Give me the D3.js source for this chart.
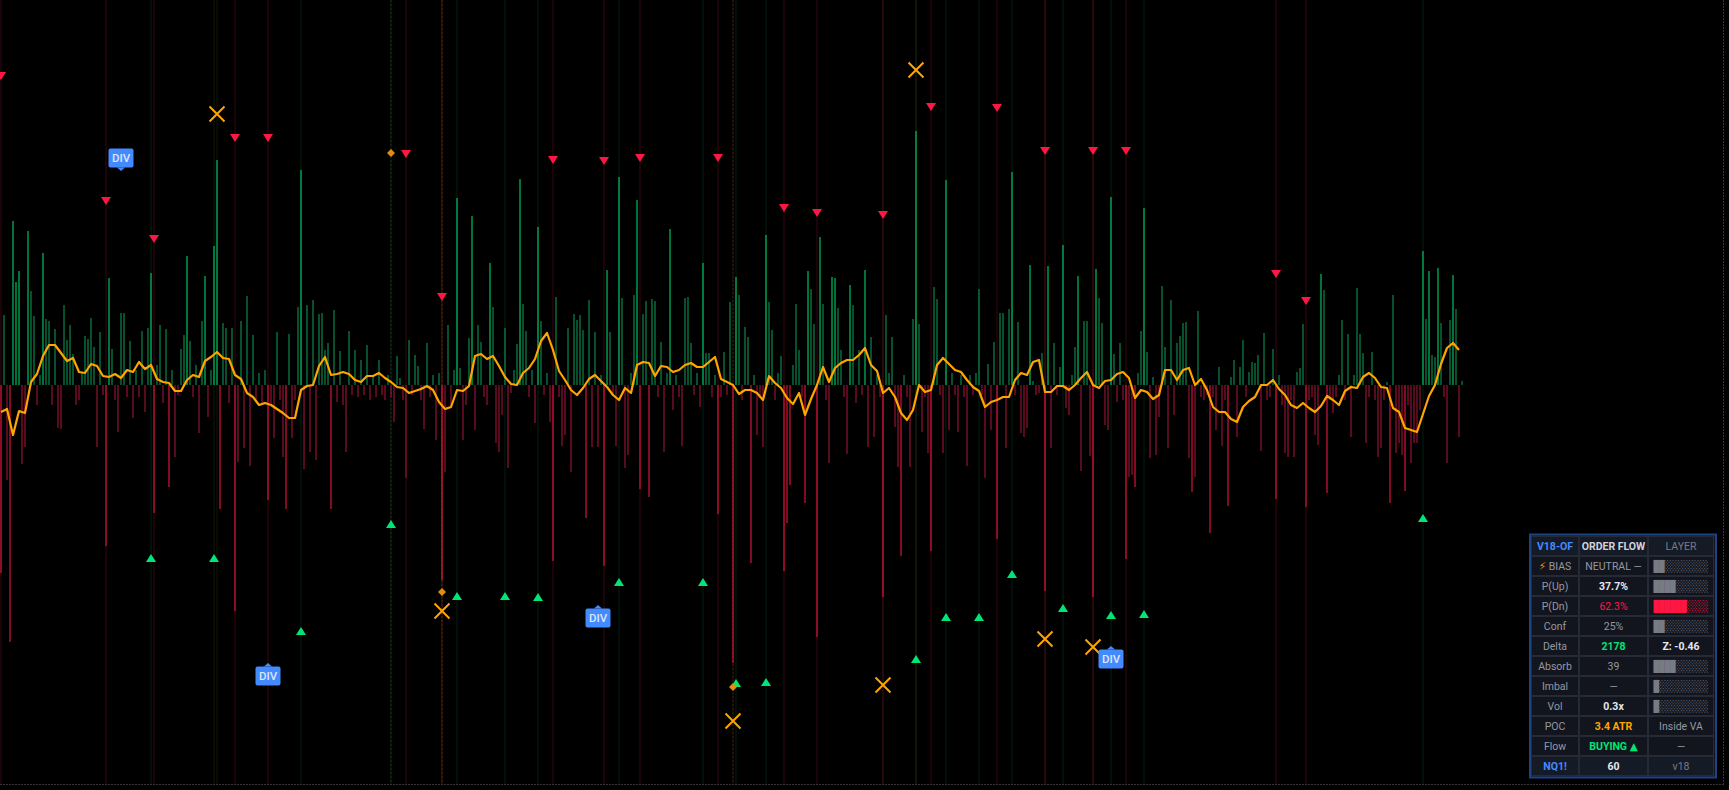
<!DOCTYPE html>
<html><head><meta charset="utf-8">
<script src="https://cdn.jsdelivr.net/npm/d3@7"></script>
<style>html,body{margin:0;padding:0;background:#000;overflow:hidden}</style>
</head><body><svg id="c" width="1729" height="790"></svg>
<script>
// ---------- DATA ----------
// per-bar order-flow delta (z units); + buying (green), - selling (red)
const delta = [
-1.88,0.70,-0.95,-2.57,1.64,1.03,1.14,-0.79,-0.62,1.54,
0.94,0.69,-0.20,0.10,1.32,0.66,0.64,-0.20,0.56,-0.43,
-0.44,0.80,0.45,0.60,0.31,-0.20,-0.15,0.12,0.49,0.46,
0.67,0.38,-0.62,0.53,-0.10,-1.61,1.07,0.36,-0.15,-0.47,
0.72,0.72,-0.12,0.44,-0.33,0.15,-0.12,0.54,-0.27,0.57,
1.12,-1.28,0.20,0.60,-0.18,0.56,-1.02,0.15,-0.72,-0.10,
0.36,0.50,1.29,0.44,-0.12,0.20,-0.48,0.64,1.09,-0.32,
0.15,1.39,2.25,-1.24,0.62,0.57,-0.18,0.57,-2.26,-0.77,
0.64,-0.63,0.89,-0.81,0.50,-0.15,0.12,-0.20,0.15,-1.15,
-0.20,-0.53,0.53,-0.15,-0.72,-1.24,0.51,-0.53,-0.15,0.78,
2.15,-0.84,0.80,-0.67,0.85,-0.75,0.71,0.72,0.35,0.42,
-1.24,0.75,-0.17,0.34,-0.20,-0.67,0.54,-0.10,0.35,-0.12,
0.25,-0.10,0.40,-0.15,0.10,-0.12,0.25,-0.10,-0.15,0.10,
-0.12,-0.37,0.29,0.07,-0.15,-0.93,0.45,-0.10,0.30,0.19,
-0.15,-0.44,0.42,-0.12,0.10,-0.55,0.12,-1.95,-0.87,0.60,
-0.20,0.15,1.87,0.17,-0.55,-0.20,0.47,1.69,-0.45,0.60,
0.43,-0.12,-0.20,1.22,0.78,-0.58,-0.67,
-0.30,0.57,-0.83,-0.08,0.15,0.41,2.06,0.81,0.54,-0.12,
0.15,-0.38,1.58,0.64,-0.10,0.12,-0.37,-1.76,0.88,-0.12,
-0.61,-0.50,0.57,-0.87,0.71,0.65,0.70,0.55,-1.33,0.85,
-0.62,0.53,-0.62,0.10,-1.81,1.15,0.53,-0.10,-0.61,2.08,
0.87,-0.83,-0.70,0.12,0.90,1.85,-1.04,0.71,0.84,-1.12,
0.86,0.84,-0.12,0.43,-0.67,0.12,1.56,-0.25,0.10,-0.12,
-0.61,0.87,0.88,0.42,-0.10,0.12,-0.22,1.22,0.32,0.32,
-0.12,0.10,-1.29,-0.12,0.33,-0.10,0.83,-2.78,1.08,0.90,
-0.15,0.58,0.48,-1.78,0.10,-0.50,-0.12,-0.62,1.50,0.83,
0.55,-0.15,0.12,0.29,-1.86,-1.38,-1.00,0.20,0.81,0.35,
-0.12,-1.18,1.14,0.96,0.61,-2.52,1.48,0.81,-0.15,-0.78,
1.08,1.07,0.77,0.35,-0.12,-0.69,1.00,0.80,-0.18,0.35,
-0.10,1.15,-0.62,0.48,-0.52,0.10,-0.12,-2.12,0.70,0.12,
0.48,-0.42,-0.82,-1.71,0.10,-0.12,-0.82,0.66,2.54,0.61,
-0.47,-0.12,-0.68,-1.66,0.98,0.86,-0.10,-0.68,2.05,-0.45,
0.12,-0.10,-0.47,0.10,-0.12,-0.81,0.10,-0.10,0.12,0.96,
-0.10,-0.93,0.21,-0.45,0.43,-1.54,
0.72,0.72,-0.63,0.76,2.13,-0.10,0.63,-0.48,-0.52,-0.43,
1.20,0.04,-0.10,-0.08,0.32,-2.06,1.19,-0.63,0.42,-0.10,
0.18,1.40,-0.23,-0.30,0.10,0.38,1.09,-0.86,0.64,0.64,
-0.71,-2.12,1.16,0.87,0.62,-0.40,-0.45,1.88,0.31,-0.17,
0.42,-0.15,-1.74,-0.92,-0.90,-1.02,0.12,0.54,1.77,0.33,
-0.73,0.08,-0.70,-0.32,0.99,0.38,-0.63,0.85,-0.30,0.42,
0.49,0.62,0.63,-0.73,-1.07,-0.92,0.74,-0.12,-0.15,-0.10,
-1.48,-0.12,-0.45,0.18,-0.61,-0.15,-1.21,0.08,0.25,-0.52,
0.18,0.45,-0.12,0.13,0.23,0.22,0.30,-0.66,0.52,-0.15,
-0.12,0.36,-1.14,0.10,-0.20,-0.68,-0.72,-0.15,-0.72,0.13,
0.17,0.61,-1.22,-0.15,-0.12,-0.50,-0.60,1.11,0.95,-1.08,
-0.15,-0.28,-0.12,0.10,0.65,-0.15,0.51,-0.52,0.10,0.97,
0.51,0.32,-0.58,-0.12,0.33,-0.15,-0.72,-0.63,-0.15,0.03,
-1.18,0.90,-0.68,-0.58,-0.70,-1.06,-0.20,-0.78,-0.58,-0.58,
-0.25,1.34,0.66,1.14,0.30,0.28,1.17,0.62,-0.12,-0.78,
0.65,1.10,0.76,-0.52,0.04
];

// smoothed flow oscillator, one value every oscStep bars
const oscStep = 2;
const osc = [
-0.27,-0.24,-0.50,-0.26,-0.28,0.03,0.11,0.29,0.40,0.40,
0.32,0.24,0.27,0.13,0.12,0.21,0.19,0.09,0.08,0.11,
0.07,0.15,0.13,0.23,0.16,0.20,0.06,0.03,0.02,-0.06,
-0.06,0.05,0.10,0.08,0.24,0.28,0.33,0.27,0.26,0.10,
0.06,-0.08,-0.12,-0.20,-0.18,-0.20,-0.24,-0.28,-0.33,-0.33,
-0.05,-0.01,0.00,0.19,0.28,0.10,0.11,0.13,0.11,0.05,
0.03,0.09,0.09,0.12,0.07,0.03,-0.02,-0.03,-0.08,-0.06,
-0.04,-0.01,-0.05,-0.17,-0.24,-0.22,-0.05,-0.06,-0.01,0.29,
0.31,0.26,0.29,0.19,0.08,0.01,0.00,0.12,0.17,0.26,
0.44,0.52,0.35,0.14,0.05,-0.05,-0.10,-0.03,0.06,0.10,
0.04,-0.02,-0.10,-0.15,-0.03,-0.08,0.20,0.23,0.22,0.09,
0.19,0.18,0.13,0.15,0.20,0.22,0.18,0.18,0.23,0.28,
0.06,0.03,0.00,-0.09,-0.05,-0.05,-0.08,-0.15,0.09,0.02,
-0.03,-0.13,-0.19,-0.08,-0.30,-0.14,0.00,0.18,0.03,0.17,
0.22,0.25,0.25,0.30,0.37,0.20,0.14,-0.08,-0.03,-0.12,
-0.28,-0.35,-0.25,0.00,-0.07,-0.05,0.20,0.27,0.21,0.15,
0.13,0.05,-0.02,-0.06,-0.22,-0.17,-0.15,-0.12,-0.12,0.05,
0.12,0.10,0.23,0.25,-0.07,-0.07,-0.01,-0.01,-0.05,0.00,
0.07,0.13,0.00,-0.03,0.04,0.05,0.11,0.13,0.07,-0.13,
-0.05,-0.07,-0.14,-0.10,0.15,0.15,0.05,0.15,0.17,0.00,
0.06,-0.05,-0.22,-0.27,-0.27,-0.34,-0.37,-0.22,-0.16,-0.12,
0.00,0.00,0.05,-0.04,-0.10,-0.20,-0.23,-0.18,-0.23,-0.27,
-0.21,-0.11,-0.15,-0.20,-0.06,-0.02,-0.03,0.08,0.12,0.07,
-0.02,-0.03,-0.23,-0.27,-0.43,-0.45,-0.47,-0.29,-0.11,0.00,
0.21,0.37,0.42,0.35
];

// signals: bar index + level (z units)
const sellIdx = [0,35,51,78,89,135,147,184,201,213,239,261,272,294,310,332,348,364,375,425,435];
const sellLvl = [3.09,1.84,1.46,2.47,2.47,2.31,0.88,2.25,2.24,2.27,2.27,1.77,1.72,1.70,2.78,2.77,2.34,2.34,2.34,1.11,0.84];
const buyIdx = [50,71,100,130,152,168,179,206,234,245,255,305,315,326,337,354,370,381,474];
const buyLvl = [-1.73,-1.73,-2.46,-1.39,-2.11,-2.11,-2.12,-1.97,-1.97,-2.98,-2.97,-2.74,-2.32,-2.32,-1.89,-2.23,-2.30,-2.29,-1.33];
const exhIdx = [72,147,244,294,305,348,364];
const exhLvl = [2.71,-2.26,-3.36,-3.00,3.15,-2.54,-2.62];
const absIdx = [130,147,244];
const absLvl = [2.32,-2.07,-3.02];
const divIdx = [40,89,199,370];
const divLvl = [2.27,-2.91,-2.33,-2.74];
const divSide = ["above","below","below","below"];
const divText = "DIV";

// table
const tblHead = ["V18-OF","ORDER FLOW","LAYER"];
const tblLabel = ["⚡ BIAS","P(Up)","P(Dn)","Conf","Delta","Absorb","Imbal","Vol","POC","Flow"];
const tblValue = ["NEUTRAL —","37.7%","62.3%","25%","2178","39","—","0.3x","3.4 ATR","BUYING ▲"];
const tblValueTone = ["muted","strong","down","muted","up","muted","muted","strong","accent","up"];
const tblLayer = [2,4,6,2,"Z: -0.46",4,1,1,"Inside VA","—"];
const tblLayerTone = ["dim","dim","down","dim","strong","dim","dim","dim","muted","muted"];
const tblFoot = ["NQ1!","60","v18"];

// ---------- DRAW ----------
const W = 1729, H = 790;
const N = delta.length;
const x = d3.scaleLinear().domain([0, N - 1]).range([1, 1462]);
const y = d3.scaleLinear().domain([-4, 4]).range([785, -15]);
const svg = d3.select("#c");
svg.append("rect").attr("width", W).attr("height", H).attr("fill", "#000");

// frame lines
svg.append("line").attr("x1", 0).attr("x2", 1724).attr("y1", 784.5).attr("y2", 784.5)
  .attr("stroke", "#363636").attr("stroke-dasharray", "2,1");
svg.append("line").attr("x1", 1723.5).attr("x2", 1723.5).attr("y1", 0).attr("y2", 785)
  .attr("stroke", "#363636").attr("stroke-dasharray", "2,1");

// signal background columns
const bg = svg.append("g");
function cols(idx, color, dash) {
  bg.append("g").selectAll("line").data(idx).join("line")
    .attr("x1", d => x(d)).attr("x2", d => x(d))
    .attr("y1", 0).attr("y2", 784)
    .attr("stroke", color).attr("stroke-width", 2)
    .attr("stroke-dasharray", dash || null);
}
cols(sellIdx, "rgba(255,23,68,0.11)");
cols(buyIdx, "rgba(0,230,118,0.07)");
cols(exhIdx, "rgba(255,120,0,0.06)");
cols(absIdx, "rgba(190,150,0,0.10)", "2,2");

// delta bars
svg.append("g").selectAll("rect").data(delta).join("rect")
  .attr("x", (d, i) => Math.round(x(i)) - 0.5)
  .attr("width", 1)
  .attr("y", d => y(Math.max(d, 0)))
  .attr("height", d => Math.abs(y(d) - y(0)))
  .attr("fill", d => d >= 0 ? (d >= 1.0 ? "#00e676" : "#0c9f5a") : (d <= -1.0 ? "#ff1744" : "#b0153e"));

// oscillator line
svg.append("path").datum(osc)
  .attr("d", d3.line().x((d, k) => x(k * oscStep)).y(d => y(d)))
  .attr("fill", "none").attr("stroke", "#ffa500").attr("stroke-width", 2.2)
  .attr("stroke-linejoin", "round");

// markers
const mk = svg.append("g");
mk.selectAll(".sell").data(sellIdx).join("path")
  .attr("d", "M-5,-4L5,-4L0,4Z").attr("fill", "#ff1744")
  .attr("transform", (d, k) => `translate(${x(d)},${y(sellLvl[k])})`);
mk.selectAll(".buy").data(buyIdx).join("path")
  .attr("d", "M-5,4L5,4L0,-4Z").attr("fill", "#00e676")
  .attr("transform", (d, k) => `translate(${x(d)},${y(buyLvl[k])})`);
mk.selectAll(".abs").data(absIdx).join("path")
  .attr("d", "M0,-4L4,0L0,4L-4,0Z").attr("fill", "#e08e0b")
  .attr("transform", (d, k) => `translate(${x(d)},${y(absLvl[k])})`);
mk.selectAll(".exh").data(exhIdx).join("path")
  .attr("d", "M-7.5,-7.5L7.5,7.5M7.5,-7.5L-7.5,7.5").attr("stroke", "#ffa500")
  .attr("stroke-width", 2).attr("fill", "none")
  .attr("transform", (d, k) => `translate(${x(d)},${y(exhLvl[k])})`);

const dv = mk.selectAll(".div").data(divIdx).join("g")
  .attr("transform", (d, k) => `translate(${x(d)},${y(divLvl[k])})`);
dv.append("rect").attr("x", -12.5).attr("y", -9.5).attr("width", 25).attr("height", 19)
  .attr("rx", 2).attr("fill", "#448aff");
dv.append("path").attr("fill", "#448aff")
  .attr("d", (d, k) => divSide[k] === "above" ? "M-4,9.5L4,9.5L0,13Z" : "M-4,-9.5L4,-9.5L0,-13Z");
dv.append("text").text(divText).attr("text-anchor", "middle").attr("dy", "0.36em")
  .attr("font-family", "Roboto, 'DejaVu Sans', sans-serif").attr("font-size", 11.5)
  .attr("font-weight", 500).attr("fill", "#dde6f7");

// ---------- TABLE ----------
const tone = {
  brand: ["#448aff", 700], title: ["#d1d4dc", 700], dim: ["#787b86", 400],
  label: ["#9598a1", 400], muted: ["#9598a1", 400], strong: ["#e6e8ee", 700],
  down: ["#ff1744", 400], up: ["#00e676", 700], accent: ["#ffa500", 700]
};
const colX = [1531, 1579, 1648], colW = [48, 69, 66], rowH = 20, top0 = 536;
const rows = [];
rows.push([{t: tblHead[0], s: "brand"}, {t: tblHead[1], s: "title"}, {t: tblHead[2], s: "dim"}]);
tblLabel.forEach((l, i) => rows.push([
  {t: l, s: "label"}, {t: tblValue[i], s: tblValueTone[i]},
  typeof tblLayer[i] === "number" ? {g: tblLayer[i], s: tblLayerTone[i]} : {t: tblLayer[i], s: tblLayerTone[i]}
]));
rows.push([{t: tblFoot[0], s: "brand"}, {t: tblFoot[1], s: "strong"}, {t: tblFoot[2], s: "dim"}]);

const tb = svg.append("g").attr("font-family", "Roboto, 'DejaVu Sans', sans-serif").attr("font-size", 10.5);
tb.append("rect").attr("x", 1530).attr("y", 534.5).attr("width", 186).attr("height", 243)
  .attr("fill", "#131722").attr("stroke", "#1d4384").attr("stroke-width", 2);
rows.forEach((r, ri) => {
  const yy = top0 + ri * rowH;
  r.forEach((c, ci) => {
    tb.append("rect").attr("x", colX[ci] + 0.5).attr("y", yy + 0.5)
      .attr("width", colW[ci] - 1).attr("height", rowH - 1)
      .attr("fill", (ri === 0 || ri === rows.length - 1) ? "#151a27" : "#12151e")
      .attr("stroke", "#262a35").attr("stroke-width", 1);
    const cx = colX[ci] + colW[ci] / 2, cy = yy + rowH / 2;
    const [col, wt] = tone[c.s];
    if (c.g !== undefined) {
      tb.append("text").attr("x", cx).attr("y", cy).attr("dy", "0.36em")
        .attr("text-anchor", "middle").attr("font-family", "'DejaVu Sans Mono', monospace")
        .attr("font-size", 11).attr("textLength", 55).attr("lengthAdjust", "spacingAndGlyphs")
        .attr("fill", c.s === "down" ? "#ff1744" : "#787b86")
        .text("█".repeat(c.g) + "░".repeat(10 - c.g));
    } else {
      const t = tb.append("text").attr("x", cx).attr("y", cy).attr("dy", "0.36em")
        .attr("text-anchor", "middle").attr("fill", col).attr("font-weight", wt);
      if (c.t.startsWith("⚡")) {
        t.append("tspan").attr("fill", "#ff8c00").attr("font-family", "'DejaVu Sans', sans-serif").text("⚡");
        t.append("tspan").text(c.t.slice(1));
      } else t.text(c.t);
    }
  });
});
</script>
</body></html>
